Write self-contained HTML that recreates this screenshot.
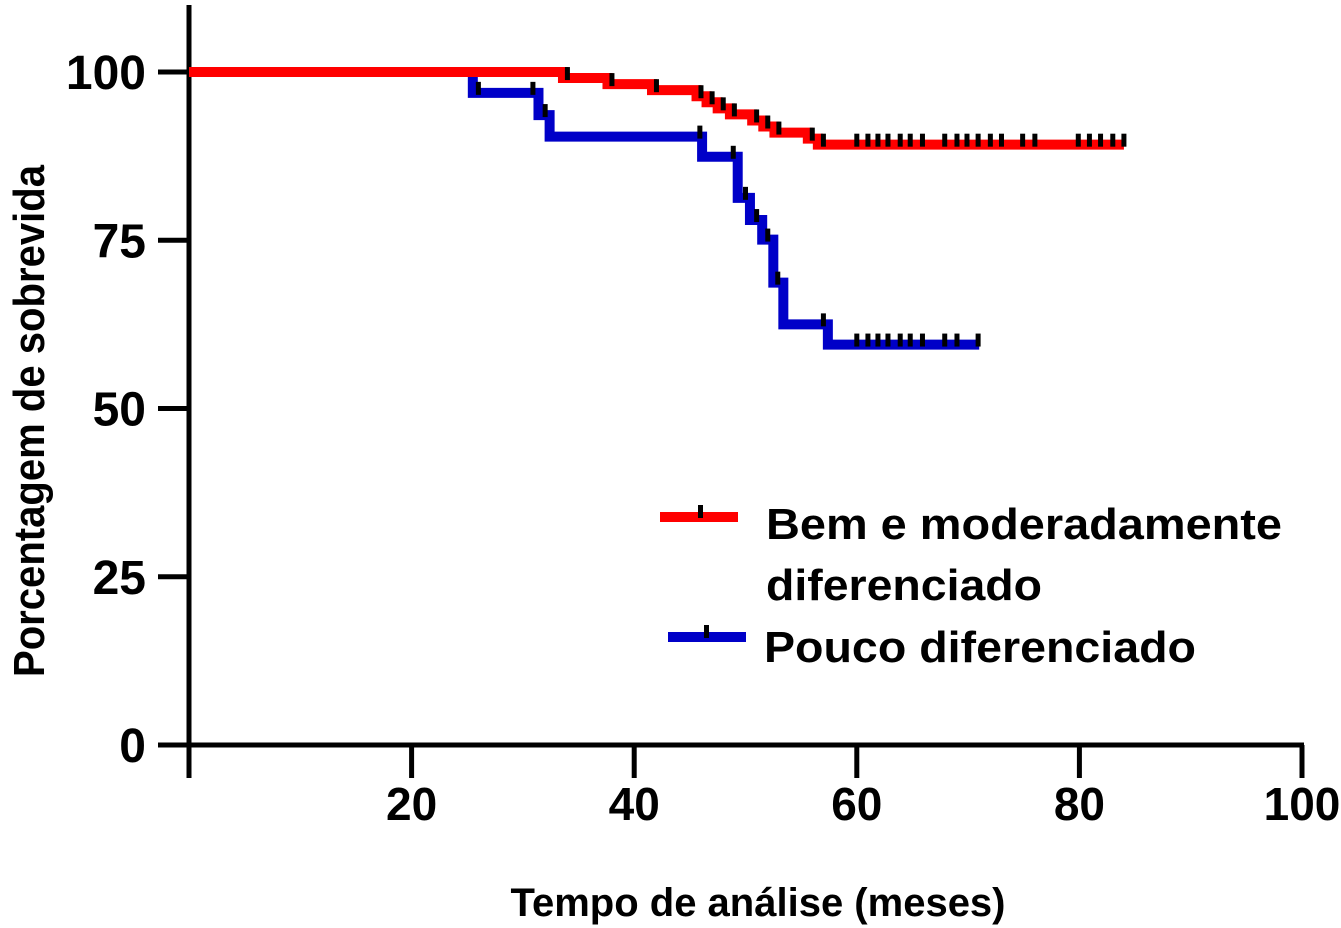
<!DOCTYPE html>
<html><head><meta charset="utf-8"><style>
html,body{margin:0;padding:0;background:#fff;}
svg{display:block;font-family:"Liberation Sans",Arial,sans-serif;font-weight:bold;}
</style></head><body>
<svg id="chart" width="1341" height="928" viewBox="0 0 1341 928">
<g id="axes"></g>
<g id="series"></g>
<g id="legend">
  <line x1="660" y1="517" x2="738" y2="517" stroke="#f00" stroke-width="10"/>
  <rect x="698" y="505" width="5" height="13" fill="#000"/>
  <text x="766" y="539" font-size="44" textLength="516" lengthAdjust="spacingAndGlyphs">Bem e moderadamente</text>
  <text x="766" y="600" font-size="44" textLength="276" lengthAdjust="spacingAndGlyphs">diferenciado</text>
  <line x1="668" y1="637" x2="746" y2="637" stroke="#0000c8" stroke-width="10"/>
  <rect x="704" y="625" width="5" height="13" fill="#000"/>
  <text x="764" y="662" font-size="44" textLength="432" lengthAdjust="spacingAndGlyphs">Pouco diferenciado</text>
</g>
<text x="758" y="916" font-size="40" text-anchor="middle" textLength="495" lengthAdjust="spacingAndGlyphs">Tempo de análise (meses)</text>
<text transform="translate(44,421) rotate(-90)" font-size="44" text-anchor="middle" textLength="512" lengthAdjust="spacingAndGlyphs">Porcentagem de sobrevida</text>
</svg>
<script>
const xTicks = [20, 40, 60, 80, 100];
const yTicks = [0, 25, 50, 75, 100];
const redTimes = [0, 33.6, 37.6, 41.6, 45.6, 46.5, 47.5, 48.6, 50.6, 51.6, 52.6, 55.6, 56.5];
const redValues = [100, 99.1, 98.2, 97.3, 96.4, 95.5, 94.6, 93.7, 92.8, 91.9, 91.0, 90.1, 89.2];
const redEnd = 84;
const redCensor = [34, 38, 42, 46, 47, 48, 49, 51, 52, 53, 56, 57, 60, 61, 61.9, 62.8, 63.9, 64.8, 65.9, 67.9, 69, 69.9, 70.9, 72, 73, 74.9, 76, 79.9, 80.9, 81.9, 83, 84];
const blueTimes = [0, 25.5, 31.4, 32.4, 46.1, 49.3, 50.4, 51.5, 52.5, 53.4, 57.4];
const blueValues = [100, 96.9, 93.6, 90.4, 87.4, 81.3, 78.0, 75.1, 68.7, 62.5, 59.5];
const blueEnd = 71;
const blueCensor = [26, 30.9, 32, 45.9, 48.9, 50, 51, 52, 52.9, 57, 60, 61, 61.9, 62.8, 63.9, 64.8, 65.9, 67.9, 69, 70.9];

const NS = "http://www.w3.org/2000/svg";
const X0 = 189, X1 = 1302, Y0 = 745, Y1 = 72;
function xs(t){ return X0 + (X1 - X0) * t / 100; }
function ys(v){ return Y0 - (Y0 - Y1) * v / 100; }
function mk(tag, attrs, parent){
  const e = document.createElementNS(NS, tag);
  for (const k in attrs) e.setAttribute(k, attrs[k]);
  parent.appendChild(e);
  return e;
}
const axes = document.getElementById('axes');
let el = mk('line', {x1: X0, y1: 5, x2: X0, y2: 778, stroke: '#000', 'stroke-width': 5}, axes);


el = mk('line', {x1: 160, y1: Y0, x2: X1 + 2, y2: Y0, stroke: '#000', 'stroke-width': 5}, axes);


xTicks.forEach(t => {
  const l = mk('line', {x1: xs(t), y1: Y0, x2: xs(t), y2: 778, stroke: '#000', 'stroke-width': 5}, axes);
  
  
  const tx = mk('text', {x: xs(t), y: 820, 'font-size': 46, 'text-anchor': 'middle'}, axes);
  tx.textContent = t;
  
  
});
yTicks.forEach(v => {
  const l = mk('line', {x1: 158, y1: ys(v), x2: X0, y2: ys(v), stroke: '#000', 'stroke-width': 5}, axes);
  
  
  const tx = mk('text', {x: 146, y: ys(v) + 17, 'font-size': 48, 'text-anchor': 'end'}, axes);
  tx.textContent = v;
  
  
});
const series = document.getElementById('series');
function valAt(times, vals, t){
  let v = vals[0];
  for (let i = 0; i < times.length; i++) if (times[i] <= t) v = vals[i];
  return v;
}
function drawSeries(times, vals, end, censor, color, name){
  let d = 'M' + xs(times[0]) + ',' + ys(vals[0]);
  for (let i = 1; i < times.length; i++){
    d += ' H' + xs(times[i]) + ' V' + ys(vals[i]);
  }
  d += ' H' + xs(end);
  const p = mk('path', {d: d, fill: 'none', stroke: color, 'stroke-width': 10, 'stroke-linejoin': 'miter', 'stroke-linecap': 'butt'}, series);
  
  
  censor.forEach((t, i) => {
    const y = ys(valAt(times, vals, t));
    const r = mk('rect', {x: xs(t) - 2.5, y: y - 11, width: 5, height: 13, fill: '#000'}, series);
    
    
  });
}
drawSeries(blueTimes, blueValues, blueEnd, blueCensor, '#0000c8', 'pouco-diferenciado');
drawSeries(redTimes, redValues, redEnd, redCensor, '#f00', 'bem-moderadamente');
</script>
</body></html>
